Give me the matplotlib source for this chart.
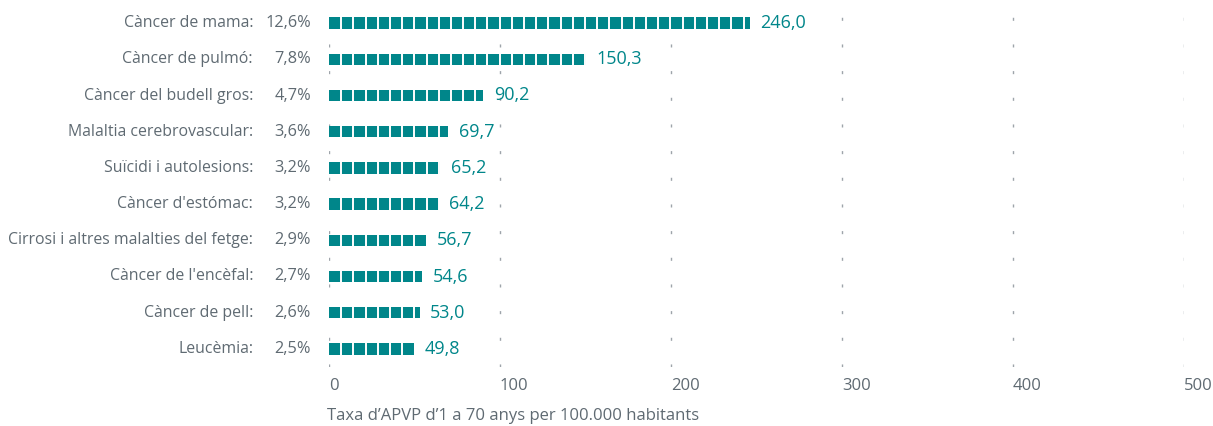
import numpy as np
import matplotlib.pyplot as plt
import matplotlib.transforms as mtransforms

# Dades: causes de mort, percentatge i taxa d'APVP
causes = ['Càncer de mama:', 'Càncer de pulmó:', 'Càncer del budell gros:',
          'Malaltia cerebrovascular:', 'Suïcidi i autolesions:', "Càncer d'estómac:",
          'Cirrosi i altres malalties del fetge:', "Càncer de l'encèfal:",
          'Càncer de pell:', 'Leucèmia:']
percents = ['12,6%', '7,8%', '4,7%', '3,6%', '3,2%', '3,2%', '2,9%', '2,7%', '2,6%', '2,5%']
taxes = [246.0, 150.3, 90.2, 69.7, 65.2, 64.2, 56.7, 54.6, 53.0, 49.8]
xticks = [0, 100, 200, 300, 400, 500]

teal = '#00868a'
grey = '#5f6a72'
plt.rcParams['font.family'] = ['Open Sans', 'DejaVu Sans']

W, H = 1213, 426
fig = plt.figure(figsize=(W / 100, H / 100), dpi=100)
ax = fig.add_axes([329 / W, 1 - 367 / H, (1184 - 329) / W, (367 - 5) / H])

y = np.arange(len(taxes))
bar_h = 0.31
ax.barh(y, taxes, height=bar_h, color=teal, zorder=2)

# quadrets: talls blancs a intervals regulars
step = 7.13
for yi, v in zip(y, taxes):
    cuts = np.arange(step, v, step)
    ax.vlines(cuts, yi - bar_h / 2 - 0.02, yi + bar_h / 2 + 0.02, color='white',
              linewidth=1.4, zorder=3)
    ax.annotate(f'{v:.1f}'.replace('.', ','), (v, yi), xytext=(7.5, 0),
                textcoords='offset points', va='center', ha='left',
                color=teal, fontsize=13, fontweight='medium')

ax.set_xlim(0, 500)
ax.set_ylim(len(taxes) - 0.5, -0.5)
ax.set_xticks(xticks)
ax.set_xticklabels([str(t) for t in xticks])
ax.set_yticks([])
ax.tick_params(axis='x', length=0, pad=8, labelsize=12, labelcolor=grey)
for lbl in ax.get_xticklabels():
    lbl.set_horizontalalignment('left')
ax.xaxis.grid(True, color='#9ea4aa', linewidth=1.0, linestyle=(0, (2.2, 17.0)), zorder=1)
for s in ax.spines.values():
    s.set_visible(False)

# etiquetes de categoria i percentatge
tr = mtransforms.blended_transform_factory(fig.transFigure, ax.transData)
for yi, name, pct in zip(y, causes, percents):
    ax.text(253 / W, yi, name, transform=tr, ha='right', va='center',
            fontsize=11.4, color=grey)
    ax.text(311 / W, yi, pct, transform=tr, ha='right', va='center',
            fontsize=11.8, color=grey)

fig.text(327 / W, 1 - 416 / H, 'Taxa d\u2019APVP d\u20191 a 70 anys per 100.000 habitants',
         ha='left', va='center', fontsize=12, color=grey)

fig.savefig('out.png', dpi=100)
